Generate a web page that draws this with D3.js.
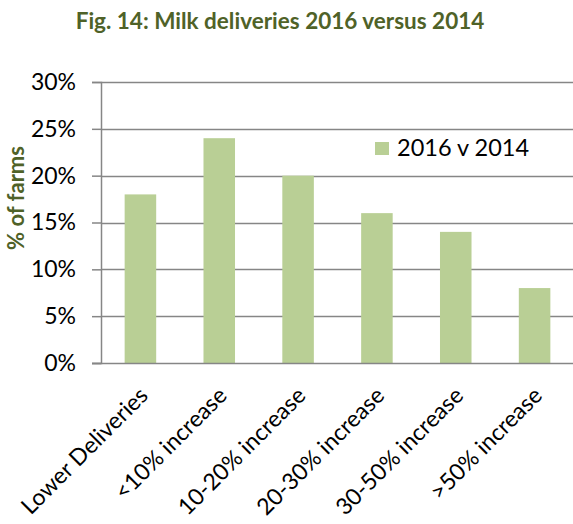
<!DOCTYPE html>
<html>
<head>
<meta charset="utf-8">
<script src="https://cdn.jsdelivr.net/npm/d3@7"></script>
<style>
  html, body { margin: 0; padding: 0; background: #fff; }
  svg { display: block; }
  text { font-family: Lato, "Open Sans", sans-serif; }
</style>
</head>
<body>
<svg id="chart" width="573" height="524"></svg>
<script>
// Share of farms by change in milk deliveries, 2016 vs 2014
const categories = ["Lower Deliveries", "<10% increase", "10-20% increase", "20-30% increase", "30-50% increase", ">50% increase"];
const seriesName = "2016 v 2014";
const values = [18, 24, 20, 16, 14, 8];
const yTicks = [0, 5, 10, 15, 20, 25, 30];

const svg = d3.select("#chart");
const W = 573, H = 524;
const margin = { left: 101, right: -1, top: 82, bottom: 161 };
const innerW = W - margin.left - margin.right;
const innerH = H - margin.top - margin.bottom;

const olive = "#4f6228";
const gridColor = "#868686";
const barColor = "#b9cf95";

const g = svg.append("g").attr("transform", `translate(${margin.left},${margin.top})`);

const x = d3.scaleBand().domain(categories).range([0, innerW]).paddingInner(0.6).paddingOuter(0.3);
const y = d3.scaleLinear().domain([0, 30]).range([innerH, 0]);

// horizontal gridlines
g.append("g")
  .selectAll("line")
  .data(yTicks.filter(t => t > 0))
  .join("line")
  .attr("x1", 0).attr("x2", innerW)
  .attr("y1", d => Math.round(y(d)) + 0.5).attr("y2", d => Math.round(y(d)) + 0.5)
  .attr("stroke", gridColor).attr("stroke-width", 1.5);

// y axis
const yAxis = g.append("g")
  .call(d3.axisLeft(y).tickValues(yTicks).tickFormat(d => d + "%").tickSize(9).tickPadding(16));
yAxis.select(".domain").attr("stroke", gridColor).attr("stroke-width", 1.5);
yAxis.selectAll(".tick line").attr("stroke", gridColor).attr("stroke-width", 1.5);
yAxis.selectAll(".tick text").attr("fill", "#000").attr("font-size", 23).attr("font-family", "Lato, sans-serif");

// bars
g.append("g")
  .selectAll("rect")
  .data(values)
  .join("rect")
  .attr("x", (d, i) => x(categories[i]))
  .attr("width", x.bandwidth())
  .attr("y", d => y(d))
  .attr("height", d => y(0) - y(d))
  .attr("fill", barColor);

// x axis
const xAxis = g.append("g")
  .attr("transform", `translate(0,${innerH})`)
  .call(d3.axisBottom(x).tickSize(0).tickPadding(0));
xAxis.select(".domain").remove();
g.append("line")
  .attr("x1", -9).attr("x2", innerW)
  .attr("y1", innerH + 0.5).attr("y2", innerH + 0.5)
  .attr("stroke", gridColor).attr("stroke-width", 1.5);
xAxis.selectAll(".tick text")
  .attr("fill", "#000")
  .attr("font-size", 23)
  .attr("font-family", "Lato, sans-serif")
  .attr("text-anchor", "end")
  .attr("dy", "0")
  .attr("transform", "translate(9,34) rotate(-45)");

// title
svg.append("text")
  .attr("x", 280).attr("y", 29)
  .attr("text-anchor", "middle")
  .attr("font-size", 22.5)
  .attr("font-weight", "bold")
  .attr("fill", olive)
  .text("Fig. 14: Milk deliveries 2016 versus 2014");

// y axis title
svg.append("text")
  .attr("transform", "translate(24,198) rotate(-90)")
  .attr("text-anchor", "middle")
  .attr("font-size", 22)
  .attr("font-weight", "bold")
  .attr("fill", olive)
  .text("% of farms");

// legend
const lg = svg.append("g").attr("transform", "translate(375,142)");
lg.append("rect").attr("width", 14).attr("height", 13).attr("fill", barColor);
lg.append("text").attr("x", 22).attr("y", 14).attr("font-size", 23.5).attr("fill", "#000").text(seriesName);
</script>
</body>
</html>
